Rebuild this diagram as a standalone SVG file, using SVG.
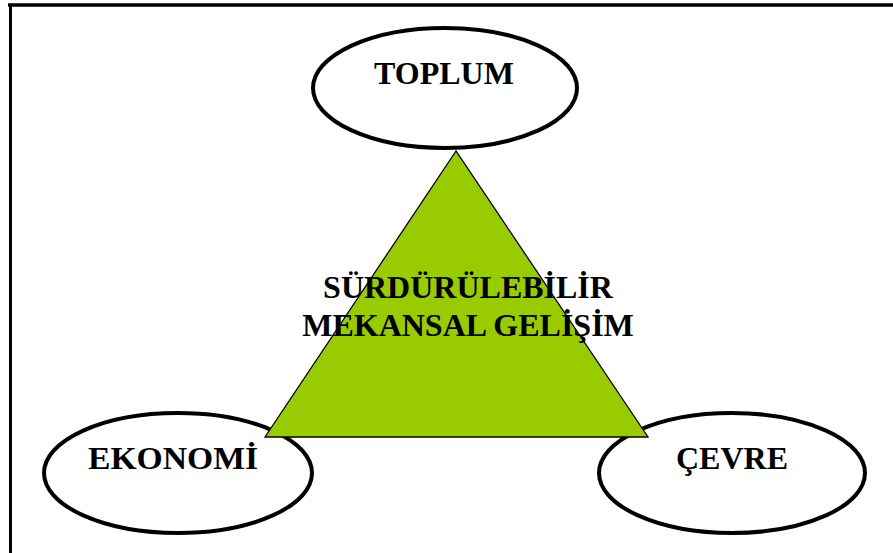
<svg xmlns="http://www.w3.org/2000/svg" width="893" height="553" viewBox="0 0 893 553">
<style>
.node ellipse{fill:#fff;stroke:#000;stroke-width:4}
.lbl{font-family:"Liberation Serif","Times New Roman",serif;font-weight:bold;font-size:32px;fill:#000;text-anchor:middle}
</style>
<rect width="893" height="553" fill="#fff"/>
<g id="frame" stroke="#000" fill="none">
<line x1="8" y1="5" x2="893" y2="5" stroke-width="3.5"/>
<line x1="10.5" y1="4" x2="10.5" y2="553" stroke-width="3"/>
</g>
<g id="connectors"></g>
<g id="toplum" class="node"><ellipse cx="445" cy="88" rx="132" ry="60"/><text class="lbl" x="444" y="84">TOPLUM</text></g>
<g id="ekonomi" class="node"><ellipse cx="178" cy="473" rx="134" ry="60"/><text class="lbl" x="173" y="469" textLength="170" lengthAdjust="spacingAndGlyphs">EKONOMİ</text></g>
<g id="cevre" class="node"><ellipse cx="732" cy="473" rx="133" ry="60"/><text class="lbl" x="732" y="469">ÇEVRE</text></g>
<g id="center">
<polygon points="456,151 265,437 648,437" fill="#99CC00" stroke="#000" stroke-width="1.3" stroke-linejoin="miter"/>
<text class="lbl" x="468" y="298">SÜRDÜRÜLEBİLİR</text>
<text class="lbl" x="468" y="336">MEKANSAL GELİŞİM</text>
</g>
</svg>
